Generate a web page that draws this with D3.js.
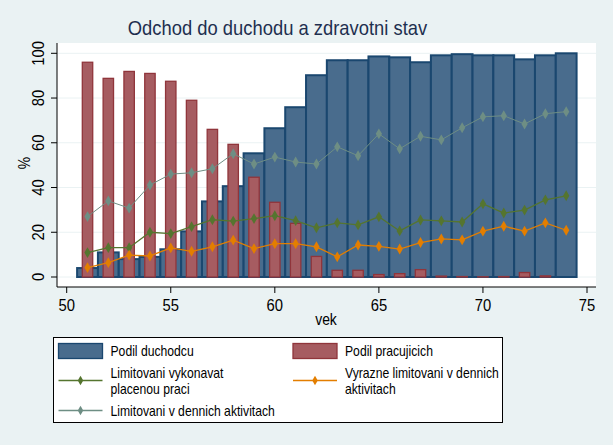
<!DOCTYPE html>
<html>
<head>
<meta charset="utf-8">
<script src="https://cdn.jsdelivr.net/npm/d3@7/dist/d3.min.js"></script>
<style>
  body { margin: 0; background: #eaf2f3; }
  svg { display: block; font-family: "Liberation Sans", Arial, sans-serif; }
</style>
</head>
<body>
<svg id="chart" width="613" height="445"></svg>
<script>
const ages = d3.range(51, 75);

const podilDuchodcu = [4, 11, 8, 9, 12.4, 20.4, 33.8, 40.6, 55.3, 66.5, 75.9, 90.2,
  96.9, 96.9, 98.6, 98.2, 96, 99.1, 99.6, 99.1, 99.1, 97.3, 99.1, 100];
const podilPracujicich = [96, 88.8, 91.9, 91, 87.5, 79, 66, 59.3, 44.6, 33.4, 24, 9.2,
  3, 3, 1.1, 1.5, 3.3, 0.4, 0.2, 0.1, 0.2, 2, 0.5, 0];
const limPlacena = [10.9, 13.1, 13.1, 20, 19.4, 22.5, 25.6, 25, 26.1, 27.4, 25.2, 22,
  24.2, 23.3, 26.9, 20.6, 25.5, 25.1, 24.6, 32.7, 28.6, 29.9, 34.5, 36.3];
const vyrazneLim = [4.2, 6.4, 9.8, 9.4, 13, 11.5, 13.5, 16.5, 12.7, 14.9, 14.9, 13.5,
  9, 14.3, 13.7, 12.5, 15.4, 17, 16.6, 20.5, 22.7, 20.5, 24.2, 20.9];
const limDenni = [27, 34, 30.8, 41.1, 46, 46.6, 48.4, 55.1, 50.5, 53.6, 51.4, 50.5,
  58.2, 54.2, 64, 57.3, 62.9, 61.3, 66.7, 71.6, 72.1, 68.4, 73, 73.9];

const xTicks = [50, 55, 60, 65, 70, 75];
const yTicks = [0, 20, 40, 60, 80, 100];

const navy = "#1a476f", navyFill = "#496c8d";
const maroon = "#90353b", maroonFill = "#a65c61";
const green = "#55752f", orange = "#e37e00", teal = "#6e8e84";

const svg = d3.select("#chart");
const plot = { left: 57, right: 596, top: 43, bottom: 287 };

const x = d3.scaleLinear().domain([50, 75]).range([66.7, 587]);
const y = d3.scaleLinear().domain([0, 100]).range([277, 53.3]);

// narrow-ish text like the original
const label = (g, tx, ty, txt, size, anchor, extra) => {
  return g.append("text")
    .attr("transform", `translate(${tx},${ty}) ${extra || ""} scale(0.87,1)`)
    .attr("text-anchor", anchor)
    .attr("font-size", size)
    .attr("fill", "#000")
    .text(txt);
};

svg.append("rect")
  .attr("x", plot.left).attr("y", plot.top)
  .attr("width", plot.right - plot.left).attr("height", plot.bottom - plot.top)
  .attr("fill", "#fff");

// gridlines
svg.append("g")
  .selectAll("line")
  .data(yTicks)
  .join("line")
    .attr("x1", plot.left).attr("x2", plot.right)
    .attr("y1", d => y(d)).attr("y2", d => y(d))
    .attr("stroke", "#eaf2f3").attr("stroke-width", 1);

// bars
svg.append("g")
  .selectAll("rect")
  .data(ages.map((a, i) => ({ a, v: podilDuchodcu[i] })))
  .join("rect")
    .attr("x", d => x(d.a - 0.5))
    .attr("width", d => x(d.a + 0.5) - x(d.a - 0.5))
    .attr("y", d => y(d.v))
    .attr("height", d => y(0) - y(d.v))
    .attr("fill", navyFill).attr("stroke", navy).attr("stroke-width", 2);

svg.append("g")
  .selectAll("rect")
  .data(ages.map((a, i) => ({ a, v: podilPracujicich[i] })).filter(d => d.v > 0))
  .join("rect")
    .attr("x", d => x(d.a - 0.25))
    .attr("width", d => x(d.a + 0.25) - x(d.a - 0.25))
    .attr("y", d => y(d.v))
    .attr("height", d => y(0) - y(d.v))
    .attr("fill", maroonFill).attr("stroke", maroon).attr("stroke-width", 1.3);

// lines
const series = [
  { vals: limDenni, color: teal, w: 1 },
  { vals: limPlacena, color: green, w: 1.3 },
  { vals: vyrazneLim, color: orange, w: 1.3 }
];
const line = d3.line().x((d, i) => x(ages[i])).y(d => y(d));
const diamond = d3.symbol().type(d3.symbolDiamond).size(34);

series.forEach(s => {
  svg.append("path")
    .attr("d", line(s.vals))
    .attr("fill", "none").attr("stroke", s.color).attr("stroke-width", s.w);
  svg.append("g")
    .selectAll("path")
    .data(s.vals)
    .join("path")
      .attr("d", diamond)
      .attr("transform", (d, i) => `translate(${x(ages[i])},${y(d)})`)
      .attr("fill", s.color);
});

// axes
const xAxis = svg.append("g");
xAxis.append("line")
  .attr("x1", plot.left).attr("x2", plot.right)
  .attr("y1", plot.bottom).attr("y2", plot.bottom)
  .attr("stroke", "#000");
xTicks.forEach(t => {
  xAxis.append("line")
    .attr("x1", x(t)).attr("x2", x(t))
    .attr("y1", plot.bottom).attr("y2", plot.bottom + 6)
    .attr("stroke", "#000");
  label(xAxis, x(t), 311, t, 17, "middle");
});

const yAxis = svg.append("g");
yAxis.append("line")
  .attr("x1", plot.left).attr("x2", plot.left)
  .attr("y1", plot.top).attr("y2", plot.bottom)
  .attr("stroke", "#000");
yTicks.forEach(t => {
  yAxis.append("line")
    .attr("x1", plot.left - 6).attr("x2", plot.left)
    .attr("y1", y(t)).attr("y2", y(t))
    .attr("stroke", "#000");
  label(yAxis, 43.5, y(t), t, 17, "middle", "rotate(-90)");
});

label(svg, 30, 163, "%", 16, "middle", "rotate(-90)");
label(svg, 326, 325, "vek", 16, "middle");

svg.append("text")
  .attr("transform", "translate(277.5,35) scale(0.92,1)")
  .attr("text-anchor", "middle")
  .attr("font-size", 20)
  .attr("fill", "#1e2f4f")
  .text("Odchod do duchodu a zdravotni stav");

// legend
const leg = svg.append("g");
leg.append("rect")
  .attr("x", 53.5).attr("y", 337.5).attr("width", 449).attr("height", 85)
  .attr("fill", "#fff").attr("stroke", "#000");

const legendItems = [
  { type: "bar", fill: navyFill, stroke: navy, col: 0, cy: 351, text: ["Podil duchodcu"] },
  { type: "bar", fill: maroonFill, stroke: maroon, col: 1, cy: 351, text: ["Podil pracujicich"] },
  { type: "line", color: green, col: 0, cy: 380.5, text: ["Limitovani vykonavat", "placenou praci"] },
  { type: "line", color: orange, col: 1, cy: 380.5, text: ["Vyrazne limitovani v dennich", "aktivitach"] },
  { type: "line", color: teal, col: 0, cy: 410.5, text: ["Limitovani v dennich aktivitach"] }
];
const colX = [58.5, 293];

legendItems.forEach(it => {
  const x0 = colX[it.col];
  if (it.type === "bar") {
    leg.append("rect")
      .attr("x", x0).attr("y", it.cy - 7.5).attr("width", 44).attr("height", 15)
      .attr("fill", it.fill).attr("stroke", it.stroke).attr("stroke-width", 1.3);
  } else {
    leg.append("line")
      .attr("x1", x0).attr("x2", x0 + 44)
      .attr("y1", it.cy).attr("y2", it.cy)
      .attr("stroke", it.color).attr("stroke-width", 1.3);
    leg.append("path")
      .attr("d", d3.symbol().type(d3.symbolDiamond).size(26))
      .attr("transform", `translate(${x0 + 22},${it.cy})`)
      .attr("fill", it.color);
  }
  const n = it.text.length;
  it.text.forEach((t, k) => {
    const ty = it.cy + 5.3 + (k - (n - 1) / 2) * 15.5;
    leg.append("text")
      .attr("transform", `translate(${x0 + 52},${ty}) scale(0.84,1)`)
      .attr("font-size", 14.5)
      .attr("fill", "#000")
      .text(t);
  });
});
</script>
</body>
</html>
